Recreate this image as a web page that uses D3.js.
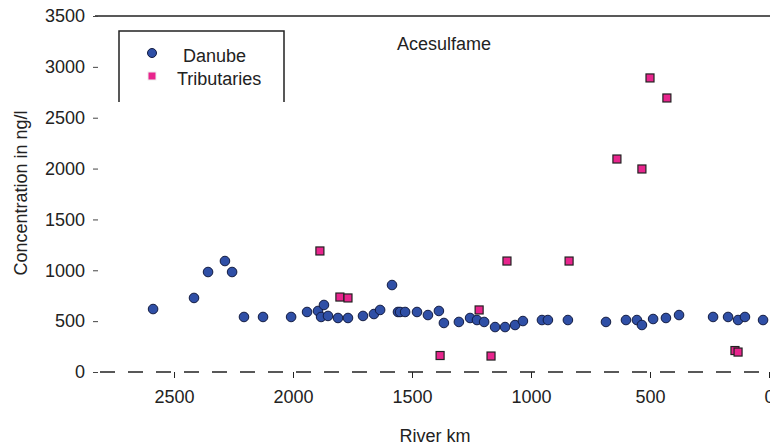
<!DOCTYPE html>
<html>
<head>
<meta charset="utf-8">
<script src="https://cdn.jsdelivr.net/npm/d3@7"></script>
<style>
  body { margin: 0; background: #fff; }
  svg { display: block; font-family: "Liberation Sans", Arial, sans-serif; }
</style>
</head>
<body>
<div id="chart"></div>
<script>
// Danube main stream samples (river km, ng/l)
const danubeKm = [2588, 2416, 2357, 2286, 2256, 2206, 2126, 2008, 1941, 1895, 1870, 1882, 1853, 1811, 1769,
  1706, 1660, 1634, 1584, 1559, 1550, 1529, 1479, 1433, 1387, 1366, 1303, 1256, 1227, 1197, 1151, 1109,
  1067, 1034, 954, 929, 845, 685, 601, 555, 534, 487, 433, 378, 235, 172, 130, 101, 25];
const danubeVal = [619, 728, 983, 1091, 983, 541, 541, 541, 590, 600, 659, 541, 551, 531, 531,
  551, 570, 610, 855, 590, 590, 590, 590, 560, 600, 482, 492, 531, 511, 492, 442, 442,
  462, 501, 511, 511, 511, 492, 511, 511, 462, 521, 531, 560, 541, 541, 511, 541, 511];

// Tributary samples
const tribKm = [1887, 1803, 1769, 1382, 1218, 1168, 1101, 840, 639, 534, 500, 429, 143, 130];
const tribVal = [1190, 737, 728, 162, 610, 157, 1091, 1091, 2094, 1996, 2891, 2694, 211, 196];

const xTicks = [2500, 2000, 1500, 1000, 500, 0];
const yTicks = [0, 500, 1000, 1500, 2000, 2500, 3000, 3500];

const W = 770, H = 445;
const fs = 18;

const svg = d3.select("#chart").append("svg")
  .attr("width", W)
  .attr("height", H);

// scales: river km runs right to left
const x = d3.scaleLinear().domain([2811, 0]).range([100, 769]);
const y = d3.scaleLinear().domain([0, 3500]).range([372, 16]);

// top frame line
svg.append("line")
  .attr("x1", 95).attr("x2", W)
  .attr("y1", y(3500)).attr("y2", y(3500))
  .attr("stroke", "#222").attr("stroke-width", 1.5);

// dashed zero line
svg.append("line")
  .attr("x1", 100).attr("x2", W)
  .attr("y1", y(0)).attr("y2", y(0))
  .attr("stroke", "#222").attr("stroke-width", 1.5)
  .attr("stroke-dasharray", "15,13");

// y axis (ticks + labels only)
const yAxis = svg.append("g").attr("transform", "translate(98,0)")
  .call(d3.axisLeft(y).tickValues(yTicks).tickFormat(d3.format("d")).tickSize(5).tickPadding(8));
yAxis.select(".domain").remove();
yAxis.selectAll("text").attr("font-size", fs).attr("fill", "#222")
  .attr("font-family", "Liberation Sans, Arial, sans-serif");
yAxis.selectAll("line").attr("stroke", "#444");

// x axis
const xAxis = svg.append("g").attr("transform", `translate(0,${y(0)})`)
  .call(d3.axisBottom(x).tickValues(xTicks).tickFormat(d3.format("d")).tickSize(6).tickPadding(12));
xAxis.select(".domain").remove();
xAxis.selectAll("text").attr("font-size", fs).attr("fill", "#222")
  .attr("font-family", "Liberation Sans, Arial, sans-serif");
xAxis.selectAll("line").attr("stroke", "#222");

// axis titles
svg.append("text")
  .attr("x", 435).attr("y", 442)
  .attr("text-anchor", "middle")
  .attr("font-size", fs).attr("fill", "#222")
  .text("River km");

svg.append("text")
  .attr("transform", "translate(27,193) rotate(-90)")
  .attr("text-anchor", "middle")
  .attr("font-size", fs).attr("fill", "#222")
  .text("Concentration in ng/l");

// title
svg.append("text")
  .attr("x", 397).attr("y", 50)
  .attr("font-size", fs).attr("fill", "#222")
  .text("Acesulfame");

// points
const danube = danubeKm.map((k, i) => ({ km: k, v: danubeVal[i] }));
const tribs = tribKm.map((k, i) => ({ km: k, v: tribVal[i] }));

svg.append("g").selectAll("circle")
  .data(danube)
  .enter().append("circle")
  .attr("cx", d => x(d.km))
  .attr("cy", d => y(d.v))
  .attr("r", 4.8)
  .attr("fill", "#2f4fa6")
  .attr("stroke", "#111a40")
  .attr("stroke-width", 1);

const s = 8;
svg.append("g").selectAll("rect")
  .data(tribs)
  .enter().append("rect")
  .attr("x", d => x(d.km) - s / 2)
  .attr("y", d => y(d.v) - s / 2)
  .attr("width", s).attr("height", s)
  .attr("fill", "#e8258d")
  .attr("stroke", "#222")
  .attr("stroke-width", 1.2);

// legend (open at the bottom)
const lg = svg.append("g");
lg.append("path")
  .attr("d", "M119,102 L119,31 L284,31 L284,102")
  .attr("fill", "none").attr("stroke", "#222").attr("stroke-width", 1.5);
lg.append("circle").attr("cx", 152).attr("cy", 53).attr("r", 4.5)
  .attr("fill", "#2f4fa6").attr("stroke", "#111a40");
lg.append("rect").attr("x", 148).attr("y", 72).attr("width", 8).attr("height", 8)
  .attr("fill", "#e8258d").attr("stroke", "#eee");
lg.append("text").attr("x", 183).attr("y", 62).attr("font-size", fs).attr("fill", "#222").text("Danube");
lg.append("text").attr("x", 177).attr("y", 85).attr("font-size", fs).attr("fill", "#222").text("Tributaries");
</script>
</body>
</html>
